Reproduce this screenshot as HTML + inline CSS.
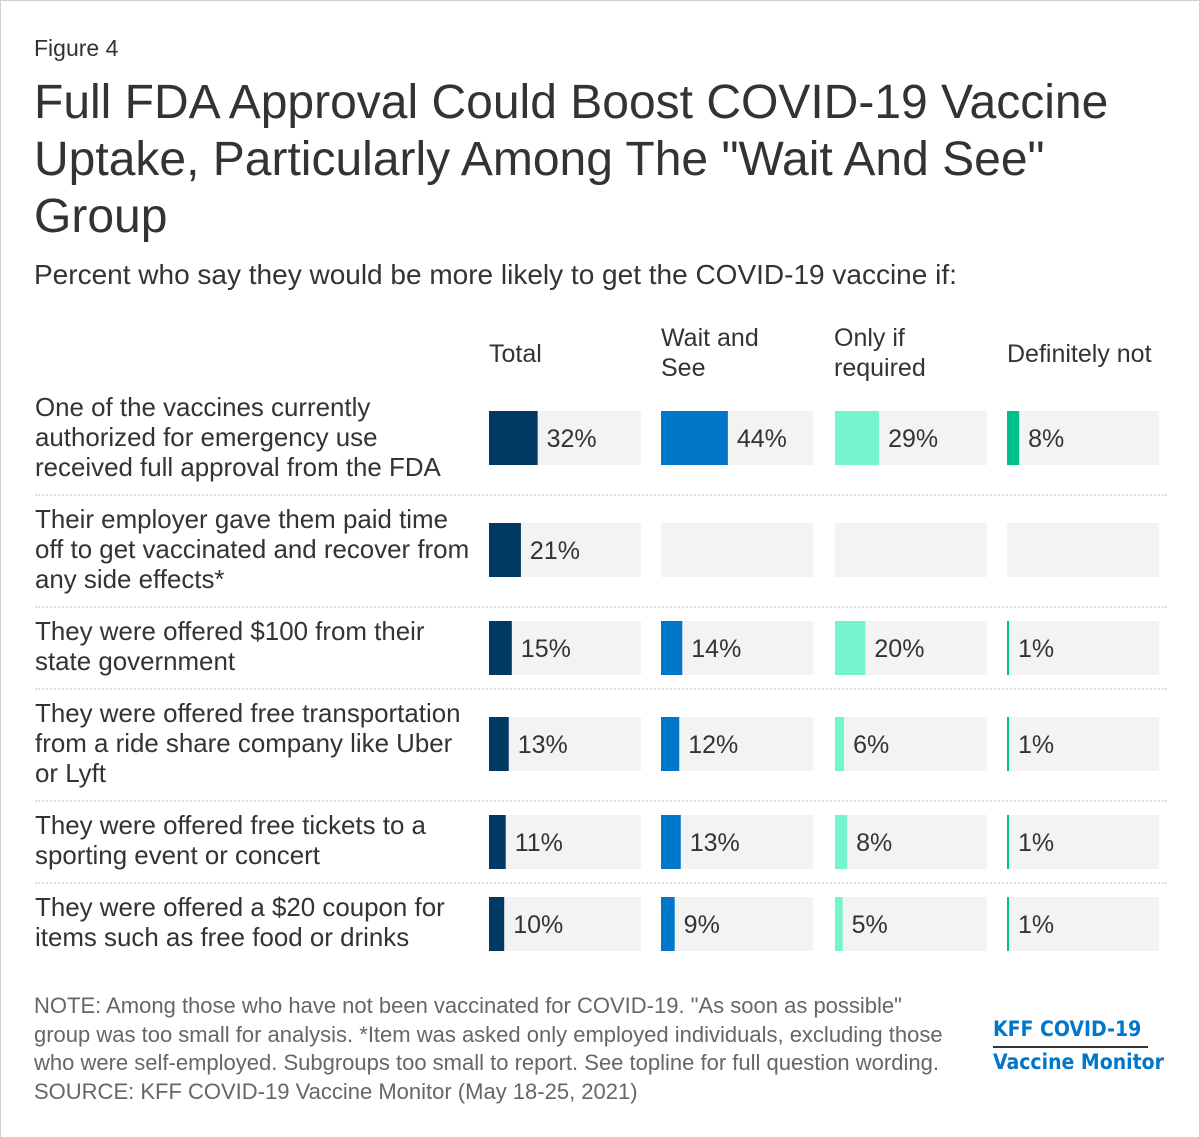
<!DOCTYPE html>
<html><head><meta charset="utf-8">
<style>
body{margin:0;background:#fff;font-family:"Liberation Sans",Arial,sans-serif;color:#333}
#wrap{position:relative;width:1198px;height:1136px;border:1px solid #d0d0d0;overflow:hidden}
.abs{position:absolute}
.fig{left:33px;top:34px;font-size:23px;color:#333}
.title{left:33px;top:73px;font-size:48px;line-height:57px;color:#333;width:1130px}
.sub{left:33px;top:258px;font-size:28px;color:#333;white-space:nowrap}
.colh{font-size:25px;line-height:30px;color:#333;white-space:nowrap}
.rowl{left:34px;font-size:25.9px;line-height:30px;color:#333;white-space:pre-line}
.sep{left:34px;width:1132px;border-top:2px dotted #ddd;height:0}
.note{left:33px;top:991px;font-size:22px;line-height:28.5px;color:#666;white-space:nowrap}
.logo{left:992px;font-family:"DejaVu Sans Condensed","DejaVu Sans",sans-serif;font-weight:bold;color:#0077c8;font-size:21px}
</style></head><body>
<div id="wrap">
<div class="abs fig">Figure 4</div>
<div class="abs title">Full FDA Approval Could Boost COVID-19 Vaccine Uptake, Particularly Among The "Wait And See" Group</div>
<div class="abs sub">Percent who say they would be more likely to get the COVID-19 vaccine if:</div>
<div class="abs colh" style="left:488px;top:338px">Total</div>
<div class="abs colh" style="left:660px;top:322px">Wait and<br>See</div>
<div class="abs colh" style="left:833px;top:322px">Only if<br>required</div>
<div class="abs colh" style="left:1006px;top:338px">Definitely not</div>
<svg id="chart" class="abs" style="left:0;top:0" width="1198" height="1000"></svg>
<div id="labels"></div>
<div class="abs note">NOTE: Among those who have not been vaccinated for COVID-19. "As soon as possible"<br>group was too small for analysis. *Item was asked only employed individuals, excluding those<br>who were self-employed. Subgroups too small to report. See topline for full question wording.<br>SOURCE: KFF COVID-19 Vaccine Monitor (May 18-25, 2021)</div>
<div class="abs logo" style="top:1016px">KFF COVID-19</div>
<div class="abs" style="left:992px;top:1045px;width:155px;border-top:2px solid #333"></div>
<div class="abs logo" style="top:1049px">Vaccine Monitor</div>
</div>
<script>
const categories=["One of the vaccines currently\nauthorized for emergency use\nreceived full approval from the FDA","Their employer gave them paid time\noff to get vaccinated and recover from\nany side effects*","They were offered $100 from their\nstate government","They were offered free transportation\nfrom a ride share company like Uber\nor Lyft","They were offered free tickets to a\nsporting event or concert","They were offered a $20 coupon for\nitems such as free food or drinks"];
const total=[32,21,15,13,11,10];
const waitAndSee=[44,null,14,12,13,9];
const onlyIfRequired=[29,null,20,6,8,5];
const definitelyNot=[8,null,1,1,1,1];
const series=[total,waitAndSee,onlyIfRequired,definitelyNot];
const seriesNames=["total","wait-and-see","only-if-required","definitely-not"];
const colors=["#003a63","#0077c8","#75f5cd","#00c08b"];
const colX=[488,660,834,1006], colW=152;
const rowTop=[410,522,620,716,814,896], barH=54;
const labelTop=[392,504,616,698,810,892];
const sepY=[493,605,687,799,881];
function xScale(v){return v/100*colW;}
const svg=document.getElementById('chart');const NS="http://www.w3.org/2000/svg";
const lab=document.getElementById('labels');
categories.forEach((c,i)=>{
  const d=document.createElement('div');d.className='abs rowl';d.style.top=labelTop[i]+'px';d.textContent=c;
  
  
  lab.appendChild(d);
  series.forEach((s,j)=>{
    const bg=document.createElementNS(NS,'rect');
    bg.setAttribute('x',colX[j]);bg.setAttribute('y',rowTop[i]);bg.setAttribute('width',colW);bg.setAttribute('height',barH);bg.setAttribute('fill','#f3f3f3');
    
    
    svg.appendChild(bg);
    const v=s[i];if(v==null)return;
    const r=document.createElementNS(NS,'rect');
    const w=Math.max(xScale(v),2);
    r.setAttribute('x',colX[j]);r.setAttribute('y',rowTop[i]);r.setAttribute('width',w);r.setAttribute('height',barH);r.setAttribute('fill',colors[j]);
    
    
    svg.appendChild(r);
    const t=document.createElementNS(NS,'text');
    t.setAttribute('x',colX[j]+w+9);t.setAttribute('y',rowTop[i]+barH/2+9);t.setAttribute('fill','#333');
    t.setAttribute('font-family','Liberation Sans, Arial, sans-serif');t.setAttribute('font-size','25');
    t.textContent=v+'%';
    
    
    svg.appendChild(t);
  });
});
sepY.forEach(y=>{
  const d=document.createElement('div');d.className='abs sep';d.style.top=y+'px';
  
  
  lab.appendChild(d);
});
</script>
</body></html>
